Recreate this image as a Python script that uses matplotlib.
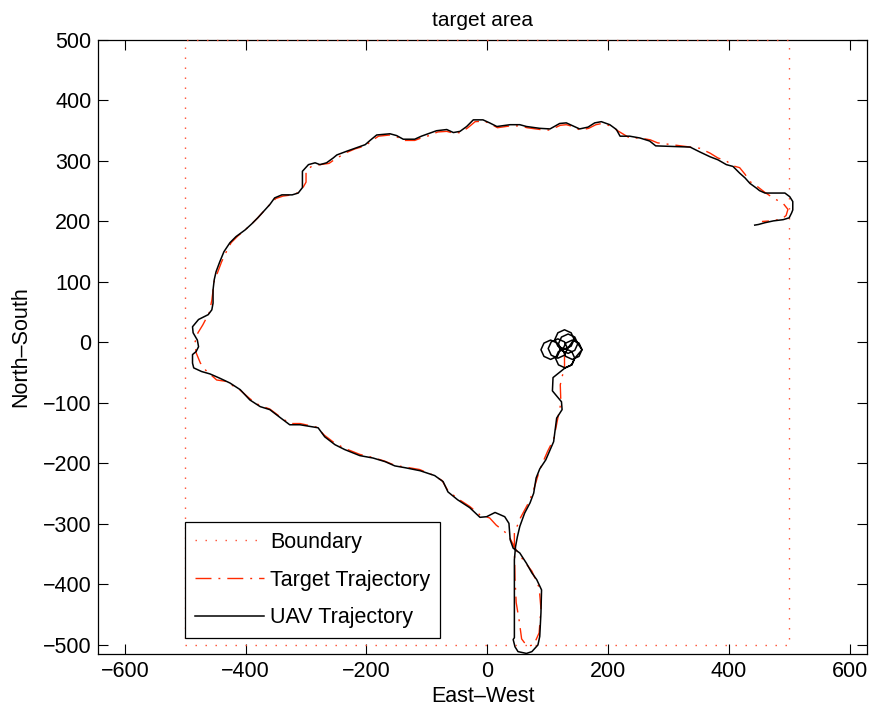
import matplotlib
matplotlib.use("Agg")
import matplotlib.pyplot as plt

plt.rcParams['font.family'] = ['Liberation Sans', 'DejaVu Sans']
plt.rcParams['font.size'] = 15

# Search region (square boundary)
boundary_x = [-500, 500, 500, -500, -500]
boundary_y = [-500, -500, 500, 500, -500]

# Target path as (East, North) points
target_path = [
    (128, -15), (128, -40), (121, -70), (122, -100), (118, -120), (110, -160), (100, -180),
    (87, -210), (78, -240), (70, -262), (55, -290), (45, -315), (45, -340), (46, -390),
    (48, -430), (53, -460), (57, -490), (66, -502), (77, -500), (86, -480), (89, -440),
    (86, -405), (74, -378), (60, -360), (46, -340), (36, -320), (28, -312), (15, -302),
    (4, -290), (-12, -285), (-29, -271), (-49, -258), (-65, -245), (-75, -228), (-90, -219),
    (-112, -210), (-136, -206), (-153, -203), (-170, -196), (-190, -190), (-211, -185),
    (-236, -175), (-253, -166), (-270, -153), (-282, -140), (-310, -134), (-327, -134),
    (-344, -122), (-360, -110), (-377, -104), (-393, -93), (-410, -78), (-434, -64),
    (-448, -62), (-466, -46), (-475, -34), (-482, -17), (-484, 0), (-479, 16), (-471, 29),
    (-460, 50), (-456, 70), (-452, 102), (-446, 117), (-440, 133), (-432, 150), (-424, 165),
    (-413, 176), (-401, 186), (-390, 196), (-380, 206), (-371, 216), (-360, 228), (-350, 238),
    (-338, 242), (-323, 244), (-312, 248), (-304, 258), (-300, 265), (-300, 283), (-290, 292),
    (-277, 294), (-262, 296), (-252, 303), (-233, 314), (-219, 320), (-202, 325), (-192, 333),
    (-180, 341), (-161, 343), (-150, 340), (-137, 334), (-120, 334), (-107, 339), (-96, 342),
    (-82, 348), (-67, 349), (-56, 346), (-44, 347), (-32, 355), (-20, 365), (-5, 366),
    (6, 361), (17, 355), (38, 358), (54, 358), (66, 355), (88, 352), (104, 351), (121, 359),
    (131, 360), (142, 357), (154, 351), (168, 354), (180, 360), (190, 362), (204, 358),
    (216, 350), (236, 338), (253, 338), (270, 335), (282, 330), (336, 323), (352, 321),
    (369, 313), (382, 305), (396, 300), (407, 292), (418, 289), (427, 278), (435, 266),
    (447, 258), (460, 248), (475, 238), (490, 230), (498, 220), (495, 210), (488, 204),
    (470, 201), (455, 200),
]

# UAV path: orbits around the parked target, then follows it
uav_path = [
    (121, -12), (116, -1), (105, 4), (94, -1), (89, -12), (94, -23), (105, -28), (116, -23), (121, -12),
    (133, -10), (128, 1), (117, 6), (106, 1), (101, -10), (106, -21), (117, -26), (128, -21), (133, -10),
    (144, 5), (139, 16), (128, 21), (117, 16), (112, 5), (117, -6), (128, -11), (139, -6), (144, 5),
    (150, -2), (145, 9), (134, 14), (123, 9), (118, -2), (123, -13), (134, -18), (145, -13), (150, -2),
    (157, -12), (152, -1), (141, 4), (130, -1), (125, -12), (130, -23), (141, -28), (152, -23), (157, -12),
    (145, -26), (140, -15), (129, -10), (118, -15), (113, -26), (118, -37), (129, -42), (140, -37), (145, -26),
    (140, -37), (129, -42),
    (109, -58), (108, -80), (123, -98), (124, -111), (115, -125), (110, -164), (103, -180),
    (97, -194), (87, -209), (81, -224), (77, -249), (71, -265), (62, -282), (54, -304),
    (50, -321), (47, -337), (45, -359), (45, -488), (43, -491), (46, -503), (51, -511),
    (65, -514), (74, -511), (84, -500), (87, -486), (89, -447), (90, -409), (82, -392),
    (74, -381), (65, -365), (54, -348), (43, -340), (38, -326), (36, -299), (29, -288),
    (13, -281), (-1, -288), (-12, -289), (-29, -273), (-49, -260), (-65, -247), (-73, -230),
    (-87, -220), (-111, -212), (-136, -207), (-153, -204), (-169, -197), (-189, -191),
    (-211, -187), (-236, -177), (-252, -169), (-269, -156), (-280, -141), (-310, -136),
    (-327, -136), (-343, -124), (-360, -111), (-376, -106), (-393, -95), (-409, -78),
    (-426, -67), (-443, -59), (-459, -52), (-473, -48), (-486, -42), (-488, -34), (-488, -20),
    (-482, -15), (-478, -7), (-480, 4), (-487, 16), (-488, 26), (-478, 38), (-470, 42),
    (-462, 46), (-456, 54), (-454, 65), (-454, 87), (-452, 104), (-449, 117), (-443, 133),
    (-436, 150), (-426, 165), (-416, 175), (-401, 186), (-390, 196), (-380, 206), (-371, 216),
    (-360, 228), (-352, 239), (-340, 244), (-323, 244), (-313, 247), (-306, 256), (-306, 283),
    (-296, 294), (-285, 297), (-277, 294), (-266, 297), (-255, 305), (-249, 310), (-233, 316),
    (-219, 321), (-202, 327), (-194, 334), (-183, 343), (-161, 345), (-150, 342), (-139, 336),
    (-120, 336), (-109, 341), (-98, 345), (-84, 350), (-67, 352), (-56, 347), (-45, 349),
    (-34, 357), (-23, 368), (-7, 368), (4, 363), (16, 357), (38, 360), (54, 360), (65, 357),
    (87, 354), (104, 353), (120, 362), (131, 363), (142, 358), (153, 353), (167, 356),
    (178, 363), (189, 365), (203, 360), (214, 352), (220, 341), (236, 341), (253, 338),
    (269, 333), (279, 325), (336, 323), (352, 315), (369, 307), (382, 302), (396, 294),
    (407, 291), (418, 280), (427, 272), (435, 263), (446, 255), (451, 251), (460, 247),
    (493, 247), (501, 241), (506, 233), (506, 219), (504, 214), (500, 206), (490, 203),
    (474, 201), (460, 198), (449, 195), (443, 194),
]

x_ticks = [-600, -400, -200, 0, 200, 400, 600]
y_ticks = [-500, -400, -300, -200, -100, 0, 100, 200, 300, 400, 500]

target_x, target_y = zip(*target_path)
uav_x, uav_y = zip(*uav_path)

fig = plt.figure(figsize=(8.7, 7.13), dpi=100)
ax = fig.add_axes([0.113, 0.0827, 0.8836, 0.8612])

red = '#ff2a00'
ax.plot(boundary_x, boundary_y, color='#ff4a2a', lw=1.0, linestyle=(0, (1, 6.2)),
        zorder=3, clip_on=False, label='Boundary')
ax.plot(target_x, target_y, color=red, lw=1.0, linestyle=(0, (11.5, 5, 1.4, 5)),
        zorder=4, label='Target Trajectory')
ax.plot(uav_x, uav_y, color='black', lw=1.1, zorder=5, label='UAV Trajectory')

ax.set_xlim(-644, 629)
ax.set_ylim(-515, 500)
ax.set_xticks(x_ticks)
ax.set_yticks(y_ticks)
ax.set_xticklabels([str(v).replace('-', '\u2212') for v in x_ticks])
ax.set_yticklabels([str(v).replace('-', '\u2212') for v in y_ticks])
ax.tick_params(direction='in', length=7, width=0.8, top=True, right=True, pad=5,
               labelsize=15.5)
for s in ax.spines.values():
    s.set_linewidth(0.9)

ax.set_title('target area', fontsize=15, pad=10)
ax.set_xlabel('East\u2013West', fontsize=15.5, labelpad=3)
ax.set_ylabel('North\u2013South', fontsize=15.5, labelpad=8)

leg = ax.legend(loc='lower left', bbox_to_anchor=(0.113, 0.026, 0.3315, 0.1906),
                mode='expand', frameon=True, fancybox=False, framealpha=1,
                edgecolor='black', handlelength=3.2, handletextpad=0.3,
                labelspacing=0.78, borderpad=0.45, borderaxespad=0, fontsize=15.5)
leg.get_frame().set_linewidth(0.9)

fig.savefig('out.png', dpi=100)
